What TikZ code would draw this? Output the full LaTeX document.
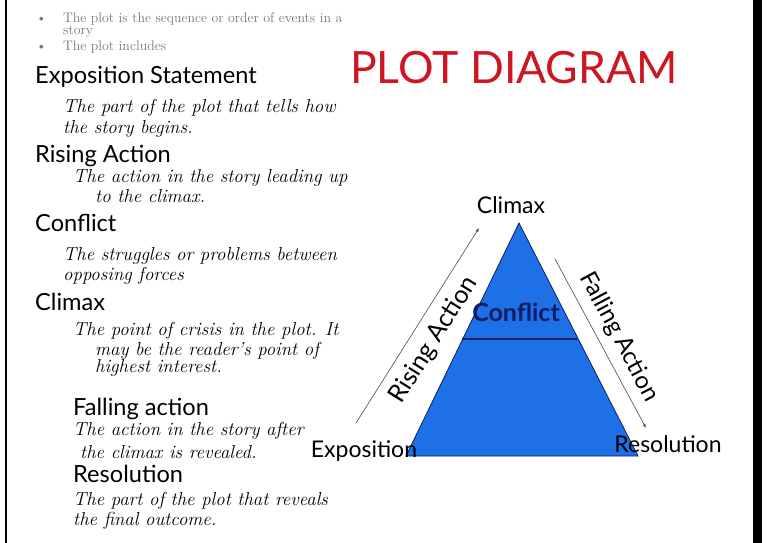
\documentclass[tikz,border=0pt]{standalone}
\usepackage{fontspec}
\newfontfamily\headfont{Lato}
\usetikzlibrary{arrows.meta}
\definecolor{titlered}{RGB}{206,22,34}
\definecolor{triblue}{RGB}{30,112,230}
\definecolor{trinavy}{RGB}{14,30,100}
\definecolor{bulletgray}{RGB}{120,120,120}
\begin{document}
\begin{tikzpicture}[x=1pt,y=-1pt,
    head/.style={anchor=base west,inner sep=0pt,font=\headfont\fontsize{23.6}{24}\selectfont},
    note/.style={anchor=base west,inner sep=0pt,font=\itshape\fontsize{18.8}{19}\selectfont},
    bul/.style={anchor=base west,inner sep=0pt,text=bulletgray,font=\fontsize{13.8}{14}\selectfont},
    trilabel/.style={inner sep=0pt,font=\headfont\fontsize{23}{23}\selectfont},
    guide/.style={draw=black!70,line width=0.6pt,-{Latex[length=4pt,width=3pt]}}]
  % ------ frame ----------------
  \fill[white] (0,0) rectangle (768,543);
  \useasboundingbox (0,0) rectangle (768,543);
  \fill[black] (5,0) rectangle (7,543);
  \fill[black] (753,0) rectangle (762,543);
  % ------ bullets ----------------
  \node[bul] (dot1) at (36,23) {\textbullet};
  \node[bul] (b1a) at (63,23) {The plot is the sequence or order of events in a};
  \node[bul] (b1b) at (63,35) {story};
  \node[bul] (dot2) at (36,51) {\textbullet};
  \node[bul] (b2) at (63,51) {The plot includes};
  % ------ title ----------------
  \node[anchor=base west,inner sep=0pt,text=titlered,font=\headfont\fontsize{44.5}{45}\selectfont] (title) at (350,83) {PLOT DIAGRAM};
  % ------ terms ----------------
  \node[head] (hexpo) at (35,83) {Exposition Statement};
  \node[note] (nexpo1) at (63,112) {The part of the plot that tells how};
  \node[note] (nexpo2) at (63,133) {the story begins.};
  \node[head] (hrise) at (35,162) {Rising Action};
  \node[note] (nrise1) at (73,182) {The action in the story leading up};
  \node[note] (nrise2) at (95,202) {to the climax.};
  \node[head] (hconf) at (35,231) {Conflict};
  \node[note] (nconf1) at (63,260) {The struggles or problems between};
  \node[note] (nconf2) at (63,280) {opposing forces};
  \node[head] (hclim) at (35,310) {Climax};
  \node[note] (nclim1) at (73,335) {The point of crisis in the plot. It};
  \node[note] (nclim2) at (95,355) {may be the reader's point of};
  \node[note] (nclim3) at (95,372) {highest interest.};
  \node[head] (hfall) at (73,415) {Falling action};
  \node[note] (nfall1) at (73,435) {The action in the story after};
  \node[note] (nfall2) at (80,458) {the climax is revealed.};
  \node[head] (hreso) at (73,482) {Resolution};
  \node[note] (nreso1) at (73,505) {The part of the plot that reveals};
  \node[note] (nreso2) at (73,525) {the final outcome.};
  % ------ triangle ----------------
  \coordinate (apex) at (519,223);
  \coordinate (baseL) at (406,456);
  \coordinate (baseR) at (638,456);
  \coordinate (confL) at (462,339);
  \coordinate (confR) at (577,339);
  \filldraw[fill=triblue,draw=trinavy,line width=0.8pt] (apex) -- (baseR) -- (baseL) -- cycle;
  \draw[trinavy,line width=1.6pt] (confL) -- (confR);
  \node[trilabel,text=trinavy,font=\headfont\bfseries\fontsize{25}{25}\selectfont] (conf) at (516,312) {Conflict};
  % ------ guides ----------------
  \coordinate (riseS) at (356,423);
  \coordinate (riseE) at (479,228);
  \coordinate (fallS) at (555,259);
  \coordinate (fallE) at (646,428);
  \draw[guide] (riseS) -- (riseE);
  \draw[guide] (fallS) -- (fallE);
  \node[trilabel,rotate=58,font=\headfont\fontsize{25}{25}\selectfont] (rise) at (434,340) {Rising Action};
  \node[trilabel,rotate=-62,font=\headfont\fontsize{24}{24}\selectfont] (fall) at (619,337) {Falling Action};
  % ------ corners ----------------
  \node[trilabel,anchor=base] (clim) at (511,213) {Climax};
  \node[trilabel,anchor=base] (expo) at (364,457) {Exposition};
  \node[trilabel,anchor=base] (reso) at (668,452) {Resolution};
\end{tikzpicture}
\end{document}
